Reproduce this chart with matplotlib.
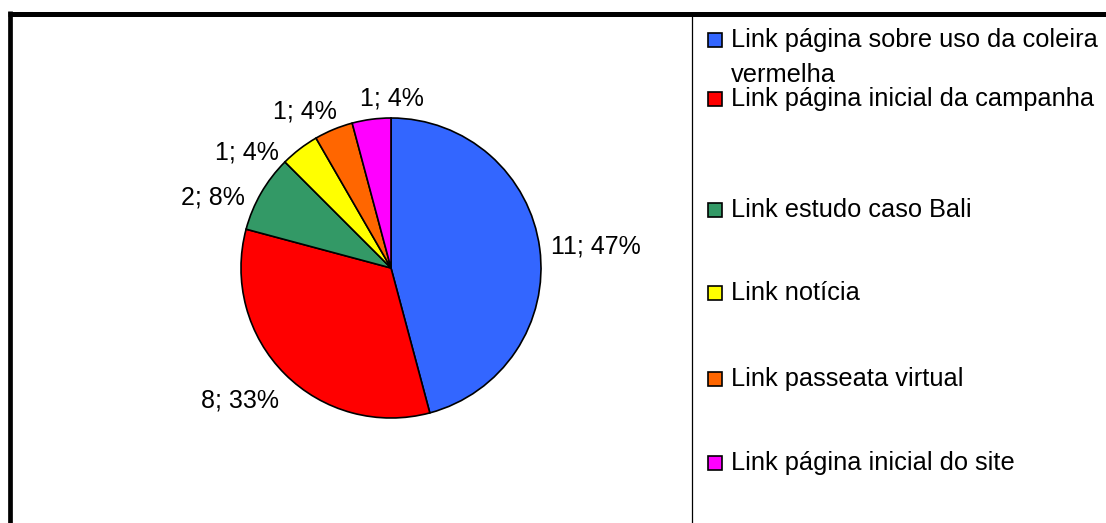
import numpy as np
import matplotlib.pyplot as plt
from matplotlib.patches import Rectangle
from matplotlib.lines import Line2D

plt.rcParams['font.family'] = ['Liberation Sans', 'DejaVu Sans']

# Clicks per link
categories = [
    "Link página sobre uso da coleira\nvermelha",
    "Link página inicial da campanha",
    "Link estudo caso Bali",
    "Link notícia",
    "Link passeata virtual",
    "Link página inicial do site",
]
counts = [11, 8, 2, 1, 1, 1]
percent_labels = ["47%", "33%", "8%", "4%", "4%", "4%"]
colors = ["#3366ff", "#ff0000", "#339966", "#ffff00", "#ff6600", "#ff00ff"]

# label placement around the pie (angle in degrees, distance in radii)
label_angles = [5.9, 221.2, 158.3, 141.4, 118.7, 89.7]
label_dists = [1.374, 1.337, 1.277, 1.229, 1.193, 1.133]

# legend rows: baseline of each entry in pixels from the top
legend_baselines = [47, 106, 217, 300, 386, 470]

W, H = 1106, 523
fig = plt.figure(figsize=(W / 100, H / 100), dpi=100)

def px(x, y):
    # pixel position (from top-left) -> figure fraction
    return x / W, 1 - y / H

# pie axes centred at (391, 268), radius 150 px
ax = fig.add_axes([191 / W, (H - 268 - 200) / H, 400 / W, 400 / H])
wedges, _ = ax.pie(counts, colors=colors, startangle=90, counterclock=False,
                   radius=1.0,
                   wedgeprops=dict(edgecolor="black", linewidth=1.2))
lim = 200 / 150
ax.set_xlim(-lim, lim)
ax.set_ylim(-lim, lim)
ax.set_aspect("equal")
ax.axis("off")

for n, pct, ang, dist in zip(counts, percent_labels, label_angles, label_dists):
    t = np.deg2rad(ang)
    ax.text(dist * np.cos(t), dist * np.sin(t), f"{n}; {pct}",
            ha="center", va="center", fontsize=18, color="black")

# frame lines
fig.add_artist(Line2D([px(10, 0)[0], px(10, 0)[0]], [px(0, 11)[1], 0],
                      color="black", linewidth=3.4, solid_capstyle="butt"))
fig.add_artist(Line2D([px(8, 0)[0], 1], [px(0, 13.5)[1], px(0, 13.5)[1]],
                      color="black", linewidth=3.6, solid_capstyle="butt"))
fig.add_artist(Line2D([px(692, 0)[0], px(692, 0)[0]], [px(0, 16)[1], 0],
                      color="black", linewidth=0.9, solid_capstyle="butt"))

# legend
for label, col, base in zip(categories, colors, legend_baselines):
    x0, y0 = px(708, base)
    fig.add_artist(Rectangle((x0, y0), 14 / W, 14 / H, transform=fig.transFigure,
                             facecolor=col, edgecolor="black", linewidth=1.2))
    for i, line in enumerate(label.split("\n")):
        tx, ty = px(731, base + i * 35)
        fig.text(tx, ty, line, ha="left", va="baseline", fontsize=18.3,
                 color="black")

plt.savefig("out.png", dpi=100)
